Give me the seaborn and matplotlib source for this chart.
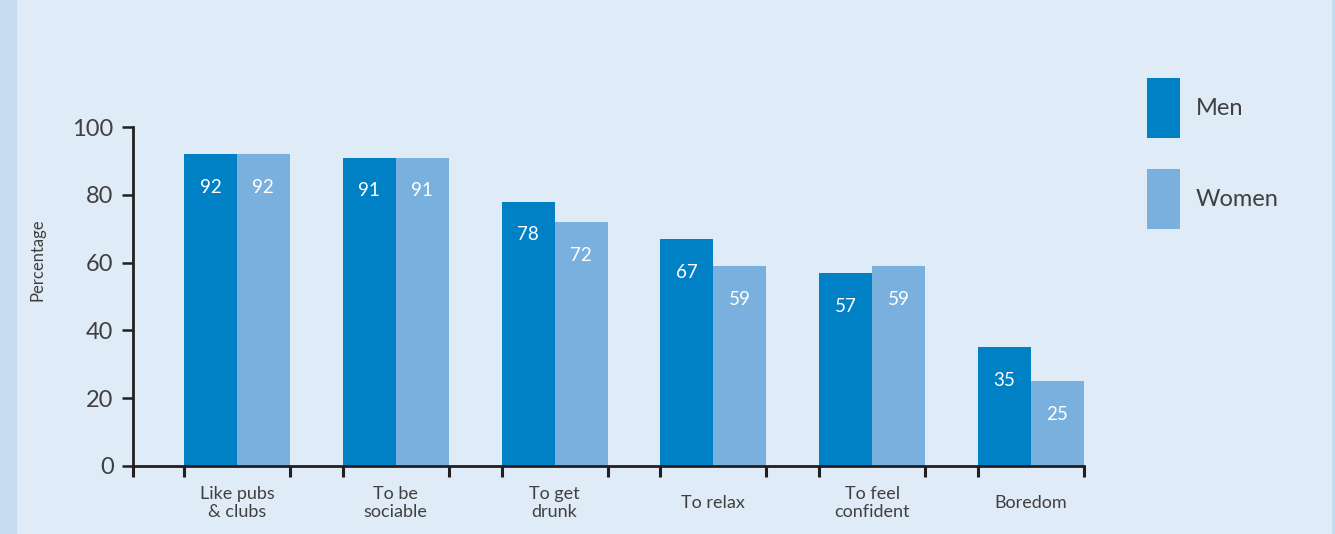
import matplotlib
matplotlib.use("Agg")
import matplotlib.pyplot as plt
from matplotlib.patches import Rectangle, Patch
import seaborn as sns
import pandas as pd

# Reasons for drinking, by sex (percentage)
categories = ["Like pubs\n& clubs", "To be\nsociable", "To get\ndrunk", "To relax",
              "To feel\nconfident", "Boredom"]
men = [92, 91, 78, 67, 57, 35]
women = [92, 91, 72, 59, 59, 25]
series = ["Men", "Women"]
y_ticks = [0, 20, 40, 60, 80, 100]

men_color = "#0081c6"
women_color = "#79b0de"
bg_color = "#dfebf7"
strip_color = "#c5dcf0"
ink = "#231f20"
text_color = "#404040"

df = pd.DataFrame({
    "category": categories * 2,
    "sex": [series[0]] * len(categories) + [series[1]] * len(categories),
    "value": men + women,
})

sns.set_theme(style="white")
plt.rcParams["font.family"] = ["Lato", "DejaVu Sans"]

fig = plt.figure(figsize=(13.35, 5.34), dpi=100, facecolor=bg_color)
fig.patches.append(Rectangle((0, 0), 17 / 1335, 1, transform=fig.transFigure,
                             facecolor=strip_color, edgecolor="none", zorder=0))
fig.patches.append(Rectangle((1 - 3 / 1335, 0), 3 / 1335, 1, transform=fig.transFigure,
                             facecolor=strip_color, edgecolor="none", zorder=0))

ax = fig.add_axes([133 / 1335, 1 - 466 / 534, (1084 - 133) / 1335, (466 - 127) / 534])
ax.set_facecolor(bg_color)

sns.barplot(data=df, x="category", y="value", hue="sex", order=categories,
            hue_order=series, palette=[men_color, women_color], saturation=1,
            width=2 / 3, gap=0, dodge=True, legend=False, ax=ax, linewidth=0)

ax.set_xlim(-104 / 159, 5 + 1 / 3)
ax.set_ylim(0, 100)
ax.set_yticks(y_ticks)
ax.set_yticklabels([str(t) for t in y_ticks], fontsize=17, color=text_color)
ax.set_ylabel("Percentage", fontsize=12, color=text_color)
ax.yaxis.set_label_coords(-0.092, 0.61)
ax.set_xlabel("")

# Category labels centred on groups, tick marks at every bar edge
ax.set_xticks(range(len(categories)))
ax.set_xticklabels(categories, fontsize=13, color=text_color, linespacing=1.15,
                   va="center")
edges = [-104 / 159]
for i in range(len(categories)):
    edges += [i - 1 / 3, i, i + 1 / 3]
ax.set_xticks(edges, minor=True)
ax.tick_params(axis="x", which="major", length=0, pad=26.5)
ax.tick_params(axis="x", which="minor", direction="out", length=8, width=2.2,
               color=ink, bottom=True)
ax.tick_params(axis="y", which="major", direction="out", length=8, width=1.8,
               color=ink, left=True, pad=6)

for side in ["top", "right"]:
    ax.spines[side].set_visible(False)
for side in ["left", "bottom"]:
    ax.spines[side].set_color(ink)
    ax.spines[side].set_linewidth(2.0)

# Value labels inside the top of each bar
for container, vals in zip(ax.containers, [men, women]):
    for rect, v in zip(container, vals):
        ax.annotate(str(v), (rect.get_x() + rect.get_width() / 2, v),
                    xytext=(0, -24), textcoords="offset points",
                    ha="center", va="center", color="white", fontsize=13.5)

handles = [Patch(facecolor=men_color, edgecolor="none"),
           Patch(facecolor=women_color, edgecolor="none")]
fig.legend(handles, series, loc="upper left",
           bbox_to_anchor=(1147 / 1335, 1 - 78 / 534), frameon=False,
           fontsize=17, handlelength=1.4, handleheight=3.55, labelspacing=1.3,
           borderpad=0, borderaxespad=0, handletextpad=0.65,
           labelcolor=text_color)

fig.savefig("out.png", dpi=100, facecolor=bg_color)
